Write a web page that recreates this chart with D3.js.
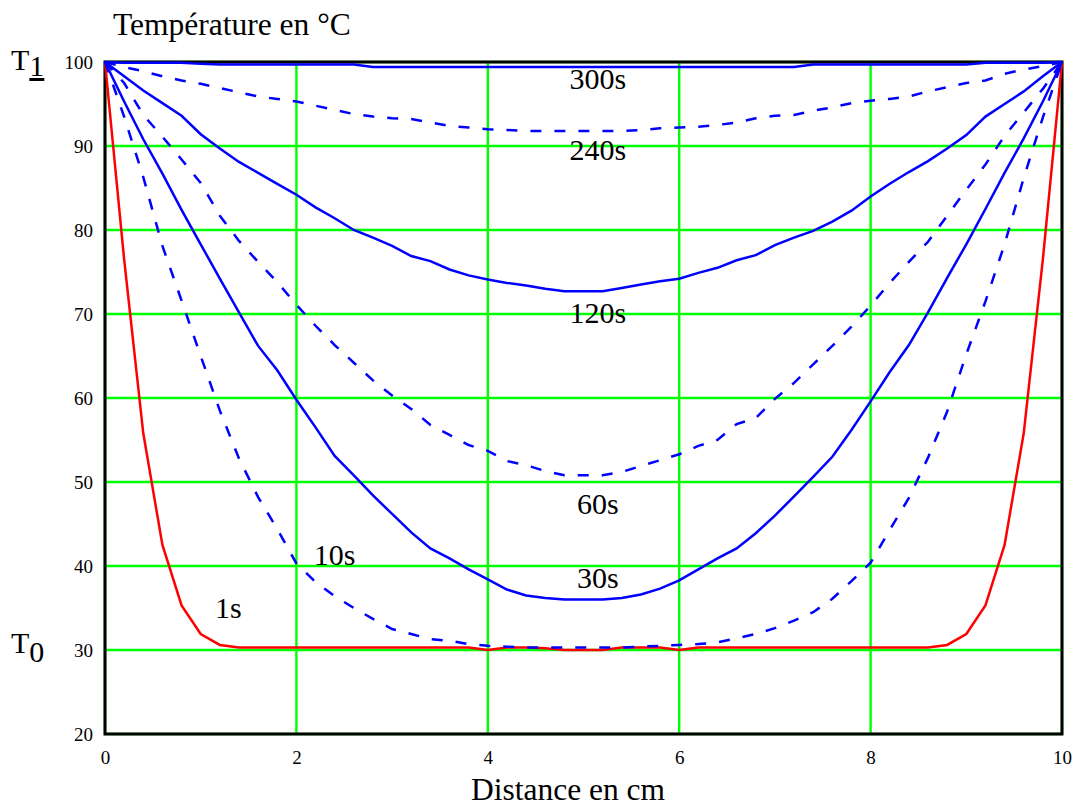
<!DOCTYPE html>
<html>
<head>
<meta charset="utf-8">
<script src="https://cdn.jsdelivr.net/npm/d3@7"></script>
<style>
  body { margin: 0; background: #fff; }
  svg { display: block; font-family: 'Liberation Serif', 'Times New Roman', serif; }
</style>
</head>
<body>
<svg id="chart"></svg>
<script>
const width = 1082;
const height = 807;

// distance in cm (nodes of the numerical solution)
const distance = [0, 0.2, 0.4, 0.6, 0.8, 1, 1.2, 1.4, 1.6, 1.8,
  2, 2.2, 2.4, 2.6, 2.8, 3, 3.2, 3.4, 3.6, 3.8,
  4, 4.2, 4.4, 4.6, 4.8, 5, 5.2, 5.4, 5.6, 5.8,
  6, 6.2, 6.4, 6.6, 6.8, 7, 7.2, 7.4, 7.6, 7.8,
  8, 8.2, 8.4, 8.6, 8.8, 9, 9.2, 9.4, 9.6, 9.8, 10];

const t1s = [100, 76.5, 55.8, 42.5, 35.3, 31.9, 30.6, 30.3, 30.3, 30.3,
  30.3, 30.3, 30.3, 30.3, 30.3, 30.3, 30.3, 30.3, 30.3, 30.3,
  30.0, 30.3, 30.3, 30.2, 30.0, 30.0, 30.0, 30.3, 30.3, 30.3,
  30.0, 30.3, 30.3, 30.3, 30.3, 30.3, 30.3, 30.3, 30.3, 30.3,
  30.3, 30.3, 30.3, 30.3, 30.6, 31.9, 35.3, 42.5, 55.8, 76.5, 100];

const t10s = [100, 93.5, 86.3, 78.1, 71.6, 65.0, 58.5, 52.8, 48.2, 44.4,
  40.3, 38.1, 36.4, 35.0, 33.7, 32.5, 31.9, 31.3, 31.1, 30.7,
  30.5, 30.4, 30.3, 30.3, 30.3, 30.3, 30.3, 30.3, 30.4, 30.5,
  30.6, 30.7, 30.9, 31.4, 31.9, 32.6, 33.5, 34.5, 36.1, 38.2,
  40.4, 44.3, 48.1, 52.9, 58.4, 65.2, 71.5, 78.3, 86.2, 93.4, 100];

const t30s = [100, 95.3, 90.8, 86.7, 82.4, 78.3, 74.2, 70.2, 66.2, 63.3,
  59.8, 56.5, 53.1, 50.8, 48.4, 46.2, 44.0, 42.1, 40.9, 39.6,
  38.4, 37.2, 36.5, 36.2, 36.0, 36.0, 36.0, 36.2, 36.6, 37.3,
  38.3, 39.6, 40.9, 42.1, 43.9, 46.0, 48.3, 50.6, 53.0, 56.2,
  59.6, 63.1, 66.3, 70.2, 74.3, 78.3, 82.5, 86.8, 90.9, 95.3, 100];

const t60s = [100, 97.5, 93.7, 91.1, 88.4, 85.6, 81.7, 78.7, 76.2, 73.8,
  71.1, 68.6, 66.3, 64.2, 62.1, 60.3, 58.7, 56.8, 55.6, 54.4,
  53.7, 52.5, 52.0, 51.3, 50.8, 50.8, 50.8, 51.2, 51.9, 52.6,
  53.3, 54.3, 55.0, 56.9, 57.6, 59.9, 61.8, 64.0, 66.2, 68.5,
  71.0, 73.7, 76.2, 78.6, 81.7, 84.8, 87.8, 91.2, 94.0, 96.8, 100];

const t120s = [100, 98.3, 96.6, 95.1, 93.6, 91.4, 89.7, 88.1, 86.8, 85.5,
  84.2, 82.7, 81.4, 80.0, 79.1, 78.1, 76.9, 76.3, 75.3, 74.6,
  74.1, 73.7, 73.4, 73.0, 72.7, 72.7, 72.7, 73.1, 73.5, 73.9,
  74.2, 74.9, 75.5, 76.4, 77.0, 78.2, 79.1, 79.9, 81.0, 82.3,
  84.0, 85.5, 86.9, 88.2, 89.7, 91.3, 93.5, 95.0, 96.5, 98.3, 100];

const t240s = [100, 99.4, 98.9, 98.3, 97.8, 97.4, 96.9, 96.4, 95.9, 95.6,
  95.3, 94.8, 94.3, 93.8, 93.5, 93.3, 93.2, 92.8, 92.4, 92.2,
  92.0, 91.9, 91.8, 91.8, 91.8, 91.8, 91.8, 91.8, 91.9, 92.1,
  92.2, 92.3, 92.5, 92.8, 93.3, 93.6, 93.7, 94.2, 94.6, 95.1,
  95.4, 95.6, 95.9, 96.5, 97.0, 97.5, 97.8, 98.6, 99.1, 99.5, 100];

const t300s = [100, 99.9, 99.9, 99.9, 99.9, 99.8, 99.7, 99.7, 99.7, 99.7,
  99.7, 99.7, 99.7, 99.7, 99.4, 99.4, 99.4, 99.4, 99.4, 99.4,
  99.4, 99.4, 99.4, 99.4, 99.4, 99.4, 99.4, 99.4, 99.4, 99.4,
  99.4, 99.4, 99.4, 99.4, 99.4, 99.4, 99.4, 99.7, 99.7, 99.7,
  99.7, 99.7, 99.7, 99.7, 99.7, 99.7, 99.9, 99.9, 99.9, 99.9, 100];

const seriesNames = ['1s', '10s', '30s', '60s', '120s', '240s', '300s'];
const seriesValues = [t1s, t10s, t30s, t60s, t120s, t240s, t300s];
const seriesDashed = [false, true, false, true, false, true, false];

// where each curve's label sits, in chart units (distance, temperature)
const labelDistance = [1.29, 2.4, 5.15, 5.15, 5.15, 5.15, 5.15];
const labelTemp = [33.8, 40.1, 37.4, 46.2, 68.9, 88.3, 96.8];

const xTicks = [0, 2, 4, 6, 8, 10];
const yTicks = [20, 30, 40, 50, 60, 70, 80, 90, 100];

const svg = d3.select('#chart')
    .attr('width', width)
    .attr('height', height);

const x = d3.scaleLinear().domain([0, 10]).range([105, 1062]);
const y = d3.scaleLinear().domain([20, 100]).range([734, 62]);

// green grid
const grid = svg.append('g');
grid.selectAll('.vgrid').data(xTicks).enter().append('line')
    .attr('x1', d => x(d)).attr('x2', d => x(d))
    .attr('y1', y(20)).attr('y2', y(100))
    .attr('stroke', '#00ff00').attr('stroke-width', 2.4);
grid.selectAll('.hgrid').data(yTicks).enter().append('line')
    .attr('x1', x(0)).attr('x2', x(10))
    .attr('y1', d => y(d)).attr('y2', d => y(d))
    .attr('stroke', '#00ff00').attr('stroke-width', 2.4);

// frame
svg.append('rect')
    .attr('x', x(0)).attr('y', y(100))
    .attr('width', x(10) - x(0)).attr('height', y(20) - y(100))
    .attr('fill', 'none').attr('stroke', '#000').attr('stroke-width', 3);

// axes (labels only, no tick marks)
const xAxis = svg.append('g')
    .attr('transform', `translate(0, ${y(20)})`)
    .call(d3.axisBottom(x).tickValues(xTicks).tickSize(0).tickPadding(17).tickFormat(d3.format('d')));
const yAxis = svg.append('g')
    .attr('transform', `translate(${x(0)}, 0)`)
    .call(d3.axisLeft(y).tickValues(yTicks).tickSize(0).tickPadding(12).tickFormat(d3.format('d')));
[xAxis, yAxis].forEach(a => {
    a.select('.domain').remove();
    a.selectAll('text')
        .attr('font-family', "'Liberation Serif', 'Times New Roman', serif")
        .attr('font-size', 19)
        .attr('fill', '#000');
});

// curves
const line = d3.line()
    .x((d, i) => x(distance[i]))
    .y(d => y(d));

seriesValues.forEach((vals, k) => {
    svg.append('path')
        .datum(vals)
        .attr('d', line)
        .attr('fill', 'none')
        .attr('stroke', k === 0 ? '#ff0000' : '#0000ff')
        .attr('stroke-width', 2.5)
        .attr('stroke-dasharray', seriesDashed[k] ? '11,13' : null);
});

// curve labels
svg.selectAll('.curve-label').data(seriesNames).enter().append('text')
    .attr('x', (d, i) => x(labelDistance[i]))
    .attr('y', (d, i) => y(labelTemp[i]))
    .attr('text-anchor', 'middle')
    .attr('font-size', 30)
    .text(d => d);

// titles
svg.append('text')
    .attr('x', 113).attr('y', 35)
    .attr('font-size', 31.5)
    .text('Température en °C');

svg.append('text')
    .attr('x', 568).attr('y', 800)
    .attr('text-anchor', 'middle')
    .attr('font-size', 31.5)
    .text('Distance en cm');

// T1 and T0 markers beside the axis
const t1 = svg.append('text').attr('x', 11).attr('y', 70).attr('font-size', 30);
t1.append('tspan').text('T');
t1.append('tspan').attr('dy', 6).attr('text-decoration', 'underline').text('1');

const t0 = svg.append('text').attr('x', 11).attr('y', 653).attr('font-size', 30);
t0.append('tspan').text('T');
t0.append('tspan').attr('dy', 9).text('0');
</script>
</body>
</html>
